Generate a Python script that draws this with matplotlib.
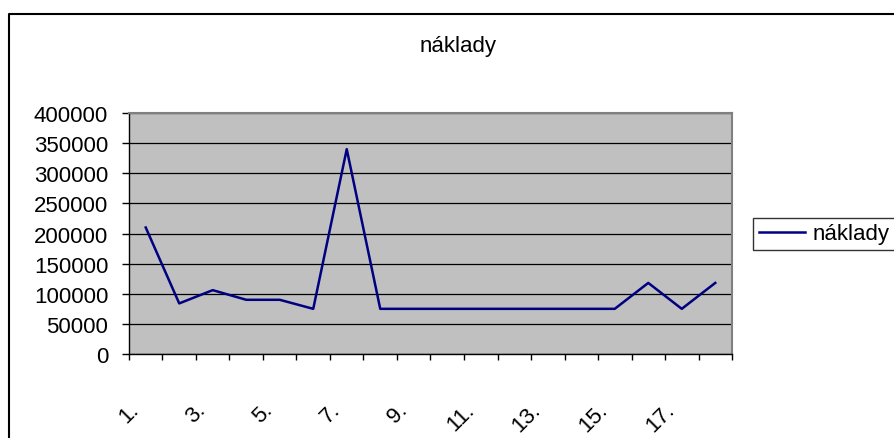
import matplotlib
matplotlib.use("Agg")
import matplotlib.pyplot as plt
from matplotlib.lines import Line2D
from matplotlib.transforms import ScaledTranslation

plt.rcParams["font.family"] = ["Liberation Sans", "DejaVu Sans"]

SERIES = "náklady"
categories = [f"{i}." for i in range(1, 19)]
values = [210000, 84000, 106000, 90000, 90000, 75000, 340000, 75000, 75000,
          75000, 75000, 75000, 75000, 75000, 75000, 118000, 75000, 118000]
yticks = list(range(0, 400001, 50000))

PLOT_BG, LINE = "#c0c0c0", "#000080"
FS = 16

fig = plt.figure(figsize=(8.95, 4.39), dpi=100)
ax = fig.add_axes([0.1441, 0.1913, 0.6738, 0.5490])
ax.set_facecolor(PLOT_BG)

x = list(range(len(categories)))
ax.plot(x, values, color=LINE, lw=1.8, label=SERIES, zorder=3)

ax.set_xlim(-0.5, len(categories) - 0.5)
ax.set_ylim(0, 400000)

# category boundaries carry the tick marks, every other centre gets a label
ax.set_xticks([i - 0.5 for i in range(len(categories) + 1)])
ax.set_xticklabels([])
ax.set_xticks(x[::2], minor=True)
ax.set_xticklabels(categories[::2], minor=True, rotation=45,
                   ha="right", va="center", rotation_mode="anchor",
                   fontsize=FS)
ax.tick_params(axis="x", which="major", direction="out", length=4,
               width=1, color="black")
ax.tick_params(axis="x", which="minor", length=0, pad=0)
off = ScaledTranslation(-0.10, -0.52, fig.dpi_scale_trans)
for lab in ax.get_xticklabels(minor=True):
    lab.set_transform(lab.get_transform() + off)

ax.set_yticks(yticks)
ax.set_yticklabels([str(v) for v in yticks], fontsize=FS)
ax.tick_params(axis="y", direction="out", length=5, width=1, pad=10,
               color="black")

ax.grid(axis="y", color="black", lw=0.9)
ax.grid(axis="x", visible=False)
ax.set_axisbelow(True)
for side in ("top", "right"):
    ax.spines[side].set_color("#808080")
    ax.spines[side].set_linewidth(1.5)
for side in ("left", "bottom"):
    ax.spines[side].set_color("black")
    ax.spines[side].set_linewidth(1)

fig.text(0.512, 0.893, SERIES, ha="center", va="center", fontsize=FS)

leg = ax.legend(loc="center left", bbox_to_anchor=(0.8413, 0.4647),
                bbox_transform=fig.transFigure, fontsize=FS, frameon=True,
                fancybox=False, edgecolor="black", borderaxespad=0,
                handlelength=2.1, handletextpad=0.35, borderpad=0.25)
leg.get_frame().set_linewidth(1)

# chart-area border (only the top and left edges fall inside the image)
fig.add_artist(Line2D([9 / 895, 9 / 895, 1.0], [0.0, 1 - 15 / 439, 1 - 15 / 439],
                      transform=fig.transFigure, color="black", lw=1.5))

fig.savefig("out.png", dpi=100, facecolor="white")
